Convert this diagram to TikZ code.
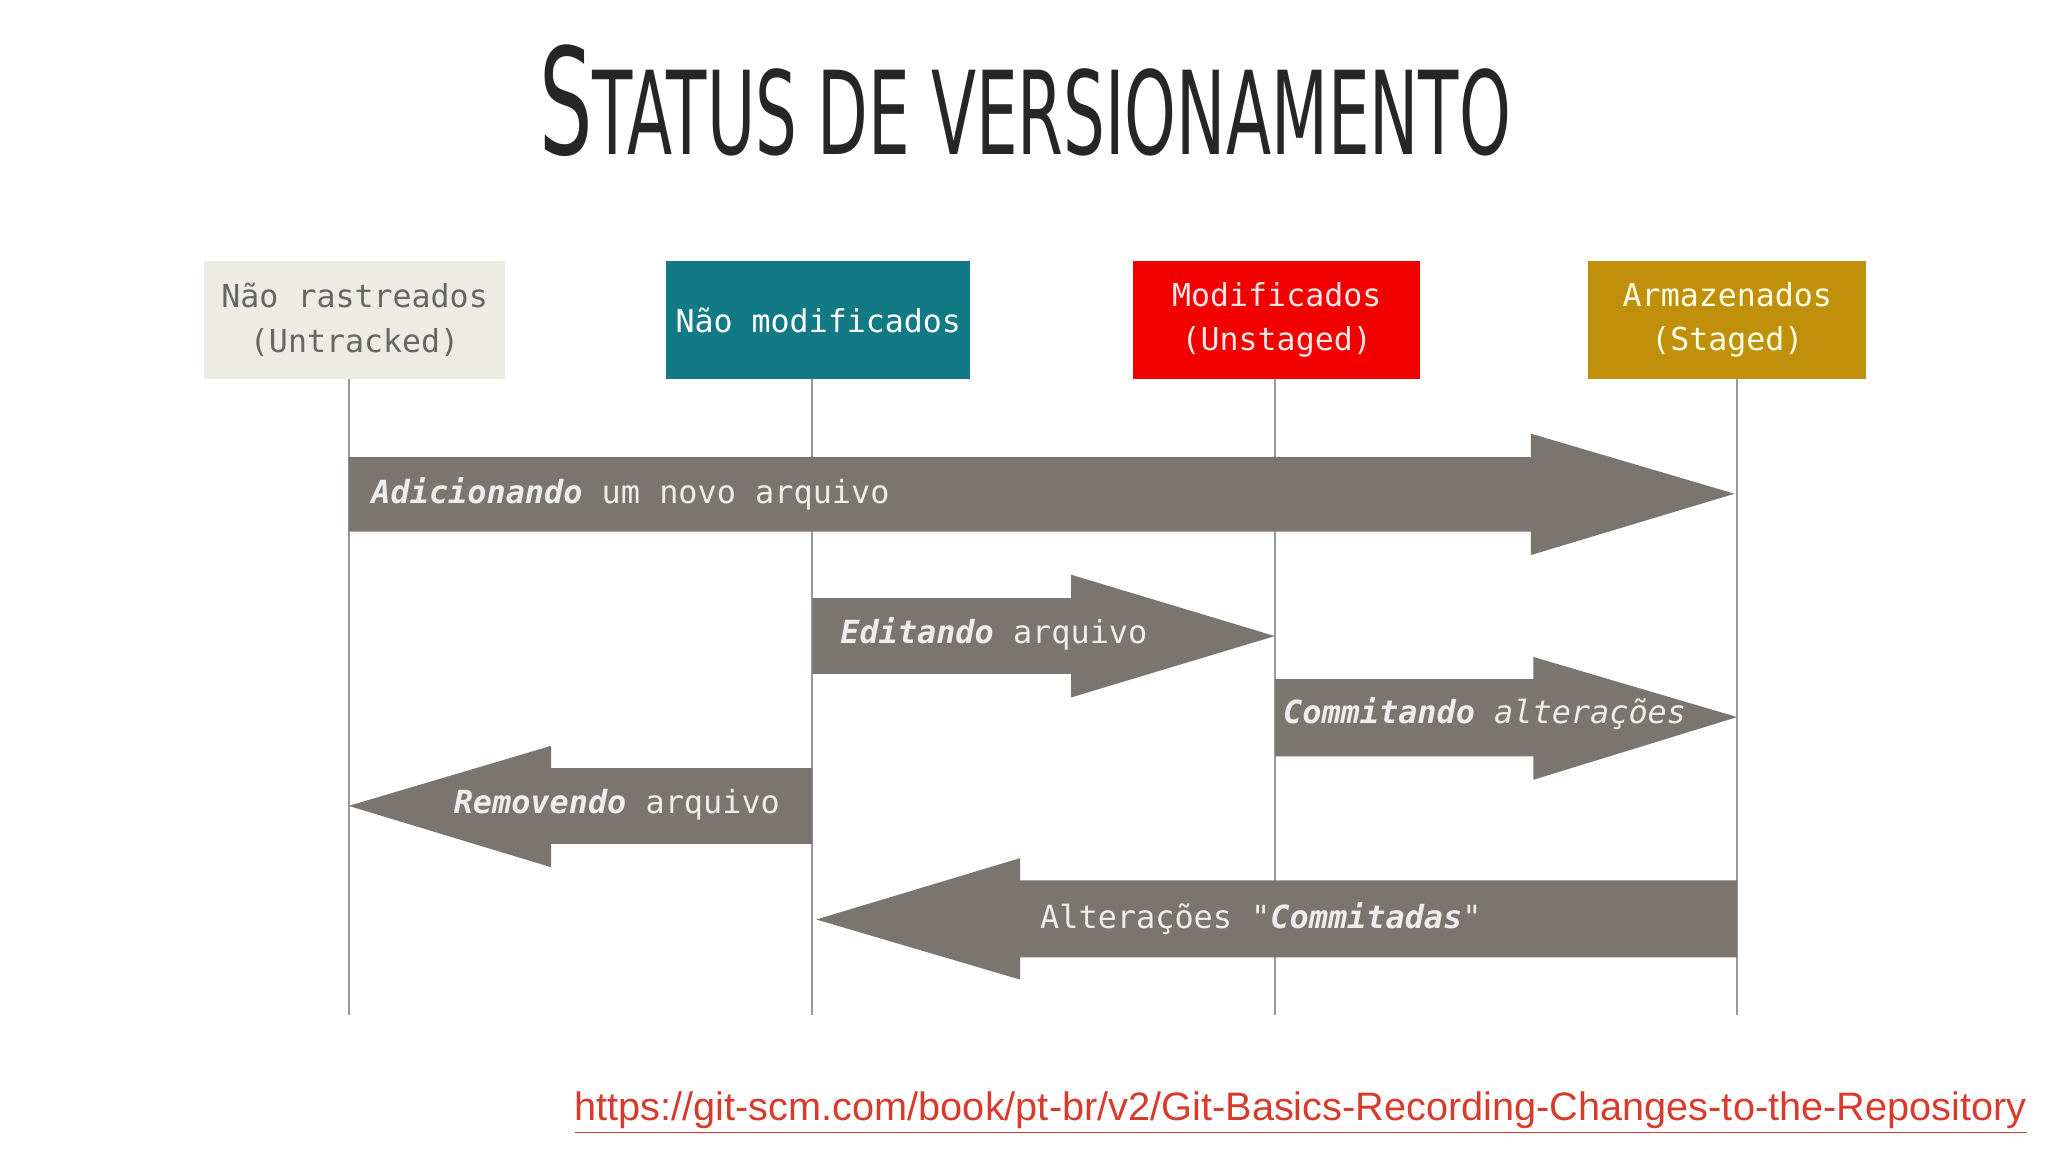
\documentclass[tikz,border=0pt]{standalone}
\usepackage{fontspec}
\setmainfont{Liberation Sans}
\newfontfamily\monof{DejaVu Sans Mono}
\newfontfamily\urlf{Liberation Sans}
\newfontfamily\titlef{DejaVu Sans Condensed}
\definecolor{arr}{HTML}{7B756F}
\definecolor{c1}{HTML}{ECECE4}
\definecolor{c2}{HTML}{127A85}
\definecolor{c3}{HTML}{F20000}
\definecolor{c4}{HTML}{C1900A}
\definecolor{urlc}{HTML}{D63B2C}
\begin{document}
\begin{tikzpicture}[x=0.5pt,y=-0.5pt,
  state/.style={draw=none,inner sep=0pt,align=center,font=\monof\fontsize{12.1}{17}\selectfont},
  life/.style={draw=gray!80,line width=0.8pt},
  flow/.style={fill=arr,draw=none},
  lbl/.style={text=white!93!black,font=\monof\fontsize{12.2}{14}\selectfont,inner sep=0pt}]
\useasboundingbox (0,0) rectangle (1568,882);
\node[font=\titlef,text=black!85,inner sep=0pt] (title) at (785,77) {\resizebox{372pt}{42pt}{\fontsize{46}{50}\selectfont S\fontsize{36}{40}\selectfont TATUS DE VERSIONAMENTO}};
\node[state,fill=c1,text=black!60,minimum width=115pt,minimum height=45pt] (s1) at (271.5,245) {Não rastreados\\(Untracked)};
\node[state,fill=c2,text=white,minimum width=116.5pt,minimum height=45pt] (s2) at (626.5,245) {Não modificados};
\node[state,fill=c3,text=white!90!red,minimum width=110pt,minimum height=45pt] (s3) at (977.5,245) {Modificados\\(Unstaged)};
\node[state,fill=c4,text=white!90!yellow,minimum width=106.5pt,minimum height=45pt] (s4) at (1322.5,245) {Armazenados\\(Staged)};
\coordinate (e1) at (267,777); \coordinate (e2) at (622,777);
\coordinate (e3) at (976,777); \coordinate (e4) at (1330,777);
\draw[life] (s1.south -| e1) -- (e1);
\draw[life] (s2.south -| e2) -- (e2);
\draw[life] (s3.south -| e3) -- (e3);
\draw[life] (s4.south -| e4) -- (e4);
\fill[flow] (267,350) -- (1172,350) -- (1172,332) -- (1328,378) -- (1172,425) -- (1172,407) -- (267,407) -- cycle;
\node[lbl,anchor=west] (t1) at (284,378) {\textbf{\textit{Adicionando}} um novo arquivo};
\fill[flow] (622,458) -- (820,458) -- (820,440) -- (976,487) -- (820,534) -- (820,516) -- (622,516) -- cycle;
\node[lbl,anchor=west] (t2) at (643,485) {\textbf{\textit{Editando}} arquivo};
\fill[flow] (976,520) -- (1174,520) -- (1174,503) -- (1330,549) -- (1174,597) -- (1174,579) -- (976,579) -- cycle;
\node[lbl,anchor=west] (t3) at (982,546) {\textbf{\textit{Commitando}} \textit{alterações}};
\fill[flow] (622,588) -- (422,588) -- (422,571) -- (267,617) -- (422,664) -- (422,646) -- (622,646) -- cycle;
\node[lbl,anchor=west] (t4) at (347,616) {\textbf{\textit{Removendo}} arquivo};
\fill[flow] (1330,674) -- (781,674) -- (781,657) -- (625,704) -- (781,750) -- (781,733) -- (1330,733) -- cycle;
\node[lbl,anchor=west] (t5) at (796,703) {Alterações "\textbf{\textit{Commitadas}}"};
\node[anchor=east,text=urlc,inner sep=0pt,font=\urlf\fontsize{15.2}{17}\selectfont] (url) at (1552,852) {\underline{https://git-scm.com/book/pt-br/v2/Git-Basics-Recording-Changes-to-the-Repository}};
\end{tikzpicture}
\end{document}
